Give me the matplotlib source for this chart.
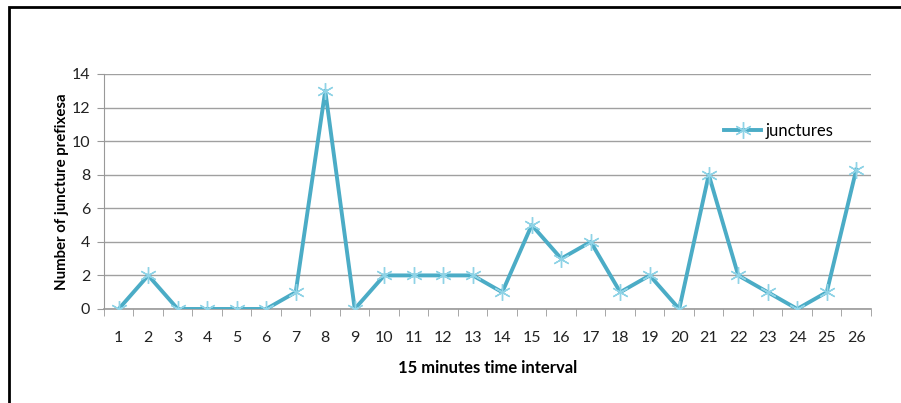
import matplotlib.pyplot as plt
from matplotlib.patches import Rectangle
from matplotlib.ticker import FixedLocator, MultipleLocator

intervals = list(range(1, 27))
junctures = [0, 2, 0, 0, 0, 0, 1, 13, 0, 2, 2, 2, 2, 1, 5, 3, 4, 1, 2, 0, 8, 2, 1, 0, 1, 8.3]

plt.rcParams["font.family"] = ["Lato", "DejaVu Sans"]

fig = plt.figure(figsize=(9.01, 4.03), dpi=100)
ax = fig.add_axes([0.1154, 0.2333, 0.8513, 0.5831])

# outer frame, cut by the right and bottom edges
fig.patches.append(Rectangle((0.010, -0.05), 1.05, 1.0326, transform=fig.transFigure,
                             fill=False, edgecolor="black", linewidth=2))

ax.plot(intervals, junctures, color="#4BACC6", linewidth=2.8,
        marker=(6, 2, 0), markersize=12, markeredgecolor="#8FD3E6",
        markeredgewidth=1.0, label="junctures", zorder=3)

ax.set_xlim(0.5, 26.5)
ax.set_ylim(0, 14)
ax.yaxis.set_major_locator(MultipleLocator(2))
ax.set_xticks(intervals)
ax.xaxis.set_minor_locator(FixedLocator([i + 0.5 for i in range(0, 27)]))
ax.tick_params(axis="x", which="major", length=0, pad=16, labelsize=11.5)
ax.tick_params(axis="x", which="minor", length=5, color="#999999", direction="out")
ax.tick_params(axis="y", length=5, color="#999999", labelsize=11.5, pad=5)
ax.tick_params(labelcolor="#222222")

ax.grid(axis="y", color="#A0A0A0", linewidth=1)
ax.set_axisbelow(True)
for side in ["top", "right"]:
    ax.spines[side].set_visible(False)
ax.spines["left"].set_color("#999999")
ax.spines["bottom"].set_color("#999999")
ax.spines["bottom"].set_linewidth(1.2)

ax.set_xlabel("15 minutes time interval", fontsize=12, fontweight="bold", labelpad=11)
ax.set_ylabel("Number of juncture prefixesa", fontsize=10.8, fontweight="bold", labelpad=2)

ax.legend(loc="upper left", bbox_to_anchor=(0.8, 0.82), frameon=False, fontsize=12,
          handlelength=2.2, handletextpad=0.3, borderaxespad=0)

fig.savefig("out.png", dpi=100)
